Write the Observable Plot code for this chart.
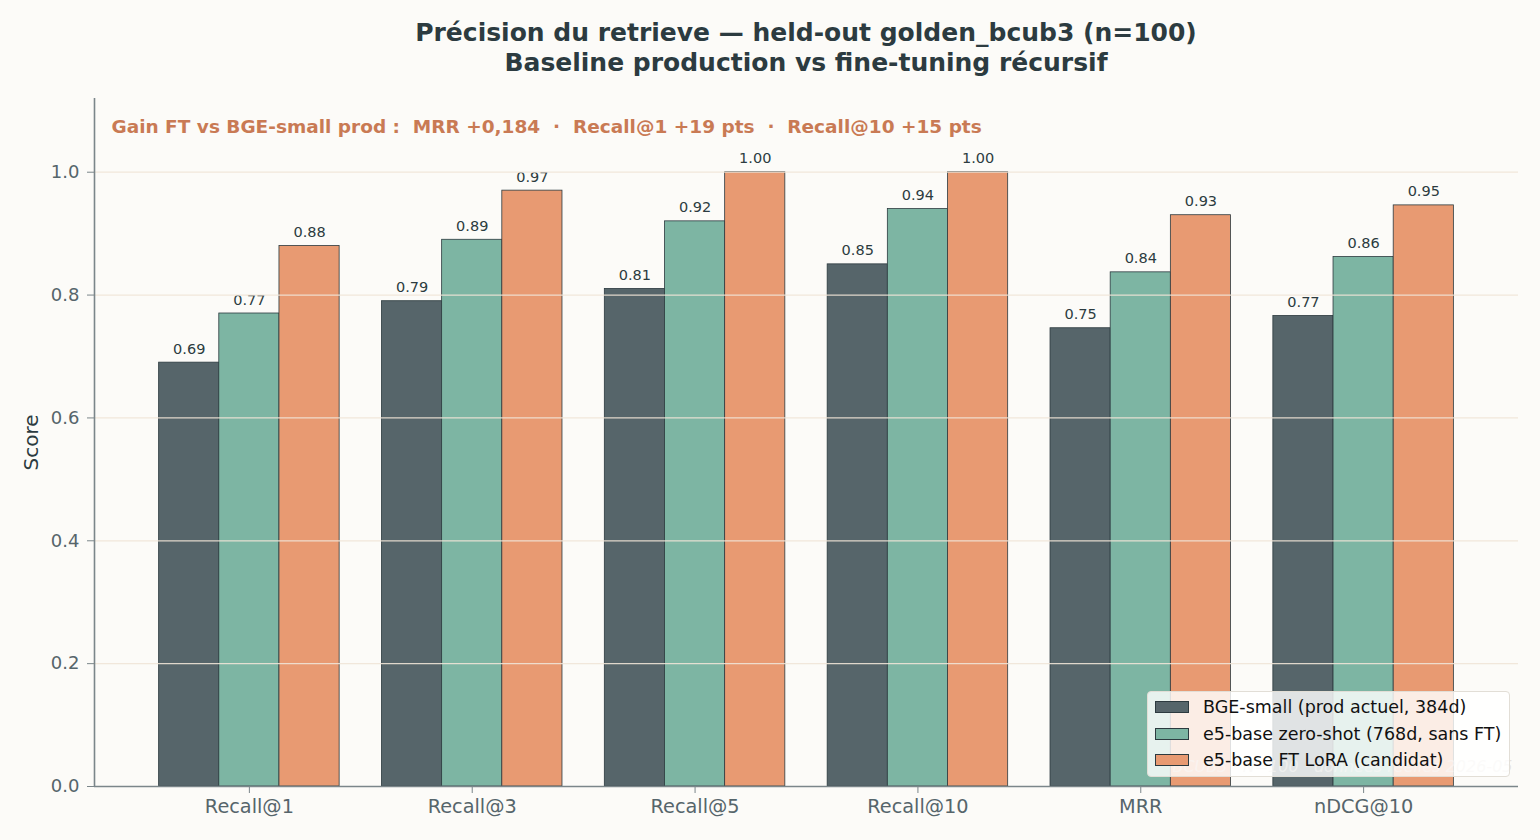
<!DOCTYPE html>
<html>
<head>
<meta charset="utf-8">
<script src="https://cdn.jsdelivr.net/npm/d3@7"></script>
<script src="https://cdn.jsdelivr.net/npm/@observablehq/plot@0.6"></script>
<style>
  html, body { margin: 0; padding: 0; background: #fcfbf8; }
  #wrap { position: relative; width: 1540px; height: 840px; background: #fcfbf8; font-family: "DejaVu Sans", sans-serif; overflow: hidden; }
  #title { position: absolute; left: 94px; width: 1424px; top: 18px; text-align: center; font-weight: bold; font-size: 25px; line-height: 30px; color: #2c3b40; }
  .layer { position: absolute; left: 0; top: 88px; }
  #legend { position: absolute; left: 1147px; top: 691px; width: 363px; height: 86px; background: rgba(255,255,255,0.82); border: 1px solid #e2ded6; border-radius: 4px; box-sizing: border-box; }
  .item { position: absolute; left: 7px; height: 26px; display: flex; align-items: center; font-size: 17.5px; color: #111; white-space: nowrap; }
  .sw { width: 34px; height: 12px; border: 1px solid #2c3a3f; box-sizing: border-box; margin-right: 14px; }
</style>
</head>
<body>
<div id="wrap">
  <div id="title">Précision du retrieve — held-out golden_bcub3 (n=100)<br>Baseline production vs fine-tuning récursif</div>
  <div id="main" class="layer"></div>
  <div id="over" class="layer"></div>
  <div id="legend"></div>
</div>
<script>
const categories = ["Recall@1", "Recall@3", "Recall@5", "Recall@10", "MRR", "nDCG@10"];
const series = ["BGE-small (prod actuel, 384d)", "e5-base zero-shot (768d, sans FT)", "e5-base FT LoRA (candidat)"];
const bgeSmall = [0.69, 0.79, 0.81, 0.85, 0.746, 0.766];
const e5ZeroShot = [0.77, 0.89, 0.92, 0.94, 0.837, 0.862];
const e5LoRA = [0.88, 0.97, 1.00, 1.00, 0.930, 0.946];
const seriesColors = ["#56656a", "#7db5a3", "#e89a72"];
const yTicks = [0, 0.2, 0.4, 0.6, 0.8, 1.0];
const gainText = "Gain FT vs BGE-small prod :  MRR +0,184  ·  Recall@1 +19 pts  ·  Recall@10 +15 pts";
const watermark = "BCUB3 · N=100 · données réelles 2026-05";

const valuesBySeries = [bgeSmall, e5ZeroShot, e5LoRA];
const rows = [];
categories.forEach((c, i) => series.forEach((s, j) => rows.push({metric: c, series: s, value: valuesBySeries[j][i]})));

const W = 1540, H = 752, ML = 94, MR = 22, MT = 10, MB = 54;
const edge = "#2c3a3f";
const axisGray = "#7b868a";
const tickText = "#56656b";

const main = Plot.plot({
  width: W, height: H, marginLeft: ML, marginRight: MR, marginTop: MT, marginBottom: MB,
  style: {background: "transparent", fontFamily: "DejaVu Sans, sans-serif", overflow: "visible"},
  fx: {domain: categories, paddingInner: 0.19, paddingOuter: 0.29, round: false, label: null},
  x: {domain: series, padding: 0, round: false, axis: null},
  y: {domain: [0, 1.12], axis: null},
  color: {domain: series, range: seriesColors},
  marks: [
    Plot.barY(rows, {fx: "metric", x: "series", y: "value", fill: "series", stroke: edge, strokeWidth: 0.8}),
    Plot.text(rows, {fx: "metric", x: "series", y: "value", text: d => d3.format(".2f")(d.value), lineAnchor: "bottom", dy: -9, fontSize: 14.5, fill: "#2c3b40"}),
    Plot.axisFx({anchor: "bottom", tickSize: 7, tickPadding: 6, fontSize: 19.3, color: tickText, stroke: axisGray, label: null})
  ]
});
document.getElementById("main").appendChild(main);

const over = Plot.plot({
  width: W, height: H, marginLeft: ML, marginRight: MR, marginTop: MT, marginBottom: MB,
  style: {background: "transparent", fontFamily: "DejaVu Sans, sans-serif", overflow: "visible"},
  x: {domain: [0, 1], axis: null},
  y: {domain: [0, 1.12], axis: null},
  marks: [
    Plot.ruleY(yTicks.slice(1), {stroke: "#f0e4d7", strokeWidth: 1.3, strokeOpacity: 0.9}),
    Plot.text([watermark], {frameAnchor: "bottom-right", dx: -6, dy: -20, lineAnchor: "middle", fontSize: 16, fontStyle: "italic", fill: "#d9d4cb", fillOpacity: 0.6}),
    Plot.ruleX([0], {y1: 0, y2: 1.12, stroke: axisGray, strokeWidth: 1.6}),
    Plot.ruleY([0], {x1: 0, x2: 1, stroke: axisGray, strokeWidth: 1.6}),
    Plot.axisY({ticks: yTicks, tickFormat: d3.format(".1f"), tickSize: 7, tickPadding: 8, fontSize: 18, color: tickText, stroke: axisGray, label: null}),
    Plot.text(["Score"], {frameAnchor: "left", dx: -63, rotate: -90, textAnchor: "middle", lineAnchor: "middle", fontSize: 20, fill: "#2c3b40"}),
    Plot.text([gainText], {frameAnchor: "top-left", dx: 17, dy: 29, lineAnchor: "middle", fontSize: 18.5, fontWeight: "bold", fill: "#c97a54"})
  ]
});
over.style.pointerEvents = "none";
document.getElementById("over").appendChild(over);

const legend = document.getElementById("legend");
series.forEach((s, j) => {
  const it = document.createElement("div");
  it.className = "item";
  it.style.top = (2 + j * 26.6) + "px";
  const sw = document.createElement("div");
  sw.className = "sw";
  sw.style.background = seriesColors[j];
  it.appendChild(sw);
  it.appendChild(document.createTextNode(s));
  legend.appendChild(it);
});
</script>
</body>
</html>
